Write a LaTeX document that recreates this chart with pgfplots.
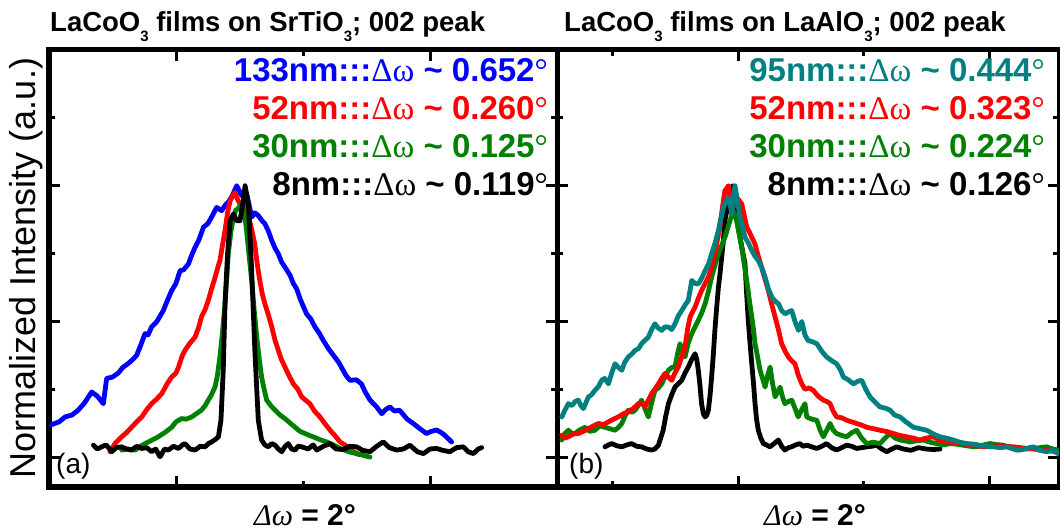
\documentclass[border=0pt]{standalone}
\usepackage{pgfplots}
\pgfplotsset{compat=1.18}
\usepackage{fontspec}
\setmainfont{Liberation Sans}
\newfontfamily\symf{Liberation Serif}
\definecolor{cblue}{RGB}{0,0,255}
\definecolor{cred}{RGB}{255,0,0}
\definecolor{cgreen}{RGB}{0,128,0}
\definecolor{cteal}{RGB}{0,128,128}
\newcommand{\sub}[1]{\raisebox{-10bp}{\fontsize{15bp}{15bp}\selectfont #1}}
\newcommand{\ann}[2]{#1:::{\symf\mdseries Δω}\ \textasciitilde\ #2{\symf\mdseries °}}
\pgfplotsset{panel/.style={
  scale only axis, height=437bp, anchor=south west,
  ymin=-0.11, ymax=1.5,
  xticklabels={}, yticklabels={},
  ytick={0,0.5,1}, minor ytick={0.25,0.75,1.25},
  axis line style={line width=5bp},
  major tick length=11bp, minor tick length=6bp,
  tick style={black, line width=3bp},
  every axis plot/.append style={line width=4.8bp, line join=round, line cap=round, mark=none},
}}
\begin{document}
\begin{tikzpicture}
\useasboundingbox (0,0) rectangle (1060bp,531bp);
% ---------------- panel (a)
\begin{axis}[panel, at={(49bp,44bp)}, width=508bp, xmin=0, xmax=2,
  xtick={0.5,1.5}, minor xtick={1.0}]
\addplot[cblue] coordinates {
(0.01,0.12)(0.04,0.13)(0.063,0.148)(0.09,0.155)(0.115,0.173)(0.14,0.20)(0.168,0.24)(0.19,0.225)
(0.214,0.197)(0.227,0.29)(0.25,0.295)(0.273,0.31)(0.29,0.33)(0.312,0.345)(0.33,0.36)(0.345,0.375)
(0.36,0.41)(0.378,0.455)(0.39,0.45)(0.404,0.48)(0.425,0.50)(0.45,0.54)(0.465,0.575)(0.483,0.614)
(0.5,0.64)(0.516,0.687)(0.53,0.69)(0.549,0.712)(0.56,0.74)(0.575,0.773)(0.59,0.80)(0.608,0.847)
(0.625,0.86)(0.64,0.884)(0.66,0.92)(0.68,0.908)(0.695,0.93)(0.706,0.94)(0.72,0.96)(0.739,1.0)
(0.759,0.963)(0.778,0.97)(0.79,0.92)(0.798,0.884)(0.81,0.90)(0.824,0.89)(0.84,0.87)(0.85,0.86)
(0.865,0.83)(0.877,0.798)(0.89,0.77)(0.903,0.749)(0.915,0.72)(0.929,0.70)(0.949,0.67)(0.962,0.64)
(0.975,0.62)(0.99,0.58)(1.014,0.528)(1.03,0.51)(1.047,0.48)(1.065,0.455)(1.08,0.43)(1.10,0.40)
(1.12,0.375)(1.14,0.35)(1.158,0.32)(1.17,0.30)(1.185,0.283)(1.21,0.285)(1.23,0.27)(1.245,0.24)
(1.264,0.21)(1.29,0.185)(1.31,0.16)(1.325,0.175)(1.342,0.185)(1.36,0.17)(1.38,0.173)(1.41,0.14)
(1.434,0.124)(1.46,0.105)(1.486,0.087)(1.505,0.095)(1.526,0.10)(1.545,0.09)(1.559,0.08)(1.585,0.056)};
\addplot[cred] coordinates {
(0.24,0.02)(0.26,0.05)(0.286,0.075)(0.305,0.09)(0.325,0.11)(0.345,0.13)(0.365,0.148)(0.385,0.175)
(0.404,0.197)(0.425,0.215)(0.444,0.234)(0.465,0.27)(0.483,0.295)(0.5,0.31)(0.51,0.332)(0.523,0.37)
(0.535,0.393)(0.555,0.42)(0.575,0.442)(0.59,0.48)(0.60,0.516)(0.615,0.545)(0.627,0.577)(0.64,0.62)
(0.654,0.663)(0.665,0.70)(0.673,0.724)(0.683,0.78)(0.693,0.835)(0.703,0.90)(0.713,0.945)(0.722,0.96)
(0.732,0.975)(0.742,0.95)(0.752,0.933)(0.762,0.94)(0.772,0.945)(0.78,0.91)(0.79,0.87)(0.80,0.83)
(0.81,0.785)(0.82,0.71)(0.83,0.65)(0.84,0.60)(0.85,0.565)(0.865,0.52)(0.877,0.48)(0.89,0.43)
(0.903,0.393)(0.915,0.36)(0.929,0.332)(0.945,0.30)(0.962,0.27)(0.98,0.25)(0.995,0.222)(1.01,0.21)
(1.027,0.197)(1.045,0.17)(1.067,0.148)(1.085,0.125)(1.106,0.10)(1.125,0.08)(1.146,0.056)(1.165,0.045)
(1.185,0.03)(1.20,0.02)(1.218,0.01)};
\addplot[cgreen] coordinates {
(0.286,0.026)(0.31,0.03)(0.339,0.026)(0.36,0.04)(0.378,0.05)(0.40,0.06)(0.43,0.075)(0.455,0.09)
(0.483,0.11)(0.50,0.13)(0.522,0.142)(0.54,0.14)(0.562,0.148)(0.58,0.16)(0.60,0.173)(0.615,0.19)
(0.627,0.21)(0.64,0.23)(0.654,0.26)(0.663,0.30)(0.673,0.37)(0.683,0.46)(0.693,0.565)(0.70,0.66)
(0.706,0.75)(0.716,0.83)(0.726,0.884)(0.735,0.91)(0.743,0.914)(0.755,0.93)(0.765,0.914)(0.772,0.88)
(0.778,0.835)(0.788,0.74)(0.798,0.65)(0.808,0.54)(0.818,0.442)(0.828,0.36)(0.837,0.295)(0.847,0.25)
(0.857,0.21)(0.873,0.19)(0.89,0.173)(0.91,0.155)(0.929,0.142)(0.95,0.125)(0.969,0.11)(0.988,0.095)
(1.008,0.087)(1.025,0.08)(1.04,0.075)(1.065,0.065)(1.093,0.056)(1.12,0.045)(1.146,0.032)(1.18,0.02)
(1.21,0.013)(1.24,0.006)(1.264,0.0)};
\addplot[black] coordinates {
(0.175,0.044)(0.19,0.03)(0.207,0.038)(0.225,0.045)(0.247,0.02)(0.265,0.035)(0.286,0.038)(0.305,0.03)
(0.325,0.026)(0.345,0.04)(0.365,0.032)(0.385,0.035)(0.404,0.02)(0.42,0.03)(0.437,0.001)(0.455,0.03)
(0.47,0.026)(0.49,0.04)(0.51,0.032)(0.525,0.045)(0.535,0.05)(0.555,0.03)(0.575,0.026)(0.595,0.04)
(0.614,0.038)(0.628,0.05)(0.64,0.056)(0.655,0.065)(0.667,0.075)(0.677,0.136)(0.686,0.32)(0.693,0.565)
(0.703,0.749)(0.713,0.871)(0.726,0.896)(0.739,0.871)(0.752,0.871)(0.765,0.945)(0.772,1.0)(0.785,0.933)
(0.798,0.687)(0.811,0.381)(0.824,0.136)(0.837,0.063)(0.85,0.045)(0.864,0.038)(0.877,0.05)(0.89,0.044)
(0.903,0.03)(0.916,0.02)(0.93,0.04)(0.942,0.05)(0.955,0.03)(0.969,0.026)(0.98,0.04)(0.995,0.038)
(1.02,0.03)(1.04,0.045)(1.054,0.026)(1.08,0.04)(1.106,0.05)(1.13,0.03)(1.159,0.028)(1.185,0.04)
(1.211,0.038)(1.235,0.025)(1.264,0.02)(1.29,0.04)(1.316,0.056)(1.34,0.035)(1.369,0.026)(1.395,0.03)
(1.421,0.044)(1.45,0.02)(1.474,0.013)(1.50,0.03)(1.526,0.032)(1.55,0.025)(1.578,0.02)(1.605,0.035)
(1.631,0.038)(1.65,0.02)(1.671,0.013)(1.69,0.03)(1.703,0.035)};
\end{axis}
% ---------------- panel (b)
\begin{axis}[panel, at={(557bp,44bp)}, width=502bp, xmin=0, xmax=2,
  xtick={0.722,1.722}, minor xtick={0.222,1.222}]
\addplot[black] coordinates {
(0.191,0.038)(0.205,0.045)(0.218,0.05)(0.238,0.042)(0.258,0.038)(0.278,0.045)(0.297,0.05)(0.317,0.04)
(0.337,0.038)(0.357,0.03)(0.377,0.026)(0.39,0.03)(0.404,0.044)(0.413,0.07)(0.423,0.099)(0.433,0.15)
(0.444,0.197)(0.457,0.23)(0.47,0.258)(0.483,0.27)(0.497,0.283)(0.51,0.31)(0.523,0.332)(0.537,0.36)
(0.55,0.381)(0.557,0.36)(0.563,0.32)(0.57,0.26)(0.576,0.197)(0.583,0.16)(0.59,0.148)(0.597,0.155)
(0.603,0.173)(0.61,0.23)(0.616,0.295)(0.623,0.38)(0.629,0.467)(0.636,0.55)(0.643,0.626)(0.65,0.68)
(0.656,0.736)(0.663,0.80)(0.669,0.871)(0.679,0.92)(0.689,0.98)(0.699,1.0)(0.709,0.908)(0.719,0.86)
(0.729,0.81)(0.739,0.76)(0.749,0.712)(0.755,0.61)(0.762,0.504)(0.769,0.42)(0.776,0.344)(0.783,0.27)
(0.789,0.197)(0.795,0.14)(0.802,0.099)(0.812,0.07)(0.822,0.05)(0.835,0.045)(0.848,0.038)(0.865,0.05)
(0.882,0.063)(0.895,0.04)(0.908,0.026)(0.922,0.035)(0.935,0.038)(0.95,0.045)(0.968,0.05)(0.98,0.04)
(0.995,0.044)(1.015,0.038)(1.035,0.032)(1.055,0.04)(1.074,0.05)(1.094,0.035)(1.114,0.026)(1.134,0.035)
(1.154,0.044)(1.174,0.04)(1.194,0.032)(1.214,0.035)(1.234,0.038)(1.254,0.04)(1.274,0.044)(1.294,0.03)
(1.314,0.02)(1.334,0.03)(1.353,0.038)(1.38,0.03)(1.41,0.025)(1.44,0.035)(1.47,0.03)(1.5,0.028)(1.526,0.03)};
\addplot[cgreen] coordinates {
(0.019,0.063)(0.03,0.085)(0.045,0.099)(0.06,0.087)(0.072,0.087)(0.09,0.1)(0.112,0.11)(0.13,0.095)
(0.151,0.099)(0.17,0.115)(0.191,0.11)(0.21,0.105)(0.231,0.099)(0.245,0.11)(0.258,0.124)(0.27,0.15)
(0.284,0.173)(0.298,0.165)(0.311,0.173)(0.324,0.19)(0.337,0.21)(0.35,0.18)(0.364,0.148)(0.377,0.2)
(0.39,0.246)(0.404,0.255)(0.417,0.27)(0.43,0.295)(0.444,0.32)(0.457,0.33)(0.47,0.332)(0.48,0.38)
(0.49,0.418)(0.5,0.39)(0.51,0.369)(0.523,0.42)(0.537,0.455)(0.55,0.48)(0.563,0.504)(0.576,0.53)
(0.59,0.565)(0.603,0.61)(0.616,0.663)(0.63,0.71)(0.643,0.749)(0.656,0.78)(0.669,0.81)(0.679,0.84)
(0.689,0.871)(0.696,0.89)(0.702,0.908)(0.709,0.89)(0.716,0.871)(0.726,0.82)(0.736,0.773)(0.746,0.71)
(0.756,0.651)(0.766,0.58)(0.776,0.516)(0.783,0.47)(0.789,0.418)(0.799,0.37)(0.809,0.32)(0.819,0.29)
(0.829,0.258)(0.839,0.30)(0.849,0.332)(0.859,0.27)(0.869,0.222)(0.879,0.24)(0.889,0.258)(0.899,0.22)
(0.908,0.197)(0.922,0.205)(0.935,0.21)(0.948,0.18)(0.961,0.148)(0.975,0.175)(0.988,0.197)(0.995,0.148)
(1.015,0.14)(1.035,0.136)(1.048,0.1)(1.061,0.075)(1.075,0.1)(1.088,0.124)(1.10,0.1)(1.114,0.087)
(1.134,0.08)(1.154,0.075)(1.174,0.09)(1.194,0.099)(1.214,0.07)(1.234,0.05)(1.26,0.055)(1.287,0.05)
(1.307,0.07)(1.327,0.087)(1.347,0.07)(1.367,0.063)(1.387,0.06)(1.407,0.056)(1.433,0.06)(1.459,0.063)
(1.485,0.055)(1.512,0.05)(1.54,0.045)(1.565,0.05)(1.59,0.048)(1.618,0.044)(1.645,0.04)(1.672,0.038)
(1.7,0.045)(1.725,0.05)(1.75,0.046)(1.778,0.044)(1.805,0.035)(1.831,0.026)(1.865,0.03)(1.897,0.032)
(1.925,0.035)(1.95,0.038)(1.975,0.03)(1.997,0.026)};
\addplot[cred] coordinates {
(0.019,0.081)(0.03,0.07)(0.045,0.075)(0.065,0.085)(0.085,0.087)(0.105,0.095)(0.125,0.105)(0.145,0.115)
(0.165,0.124)(0.185,0.12)(0.205,0.13)(0.225,0.14)(0.244,0.148)(0.265,0.16)(0.284,0.167)(0.305,0.18)
(0.324,0.197)(0.337,0.2)(0.351,0.185)(0.364,0.21)(0.377,0.234)(0.39,0.25)(0.404,0.27)(0.417,0.29)
(0.43,0.308)(0.444,0.295)(0.457,0.283)(0.47,0.31)(0.483,0.332)(0.497,0.37)(0.51,0.406)(0.52,0.47)
(0.53,0.516)(0.54,0.535)(0.55,0.553)(0.563,0.585)(0.576,0.614)(0.59,0.64)(0.603,0.663)(0.616,0.70)
(0.629,0.749)(0.639,0.80)(0.649,0.847)(0.659,0.92)(0.669,0.982)(0.676,0.99)(0.683,1.0)(0.69,0.95)
(0.696,0.908)(0.706,0.93)(0.716,0.957)(0.726,0.945)(0.736,0.933)(0.746,0.89)(0.756,0.847)(0.766,0.83)
(0.776,0.81)(0.789,0.785)(0.802,0.74)(0.815,0.70)(0.829,0.655)(0.842,0.614)(0.855,0.565)(0.869,0.516)
(0.882,0.47)(0.895,0.418)(0.909,0.39)(0.922,0.369)(0.935,0.355)(0.948,0.344)(0.962,0.30)(0.975,0.27)
(0.988,0.25)(1.005,0.255)(1.021,0.246)(1.04,0.225)(1.061,0.21)(1.075,0.205)(1.088,0.197)(1.10,0.17)
(1.114,0.148)(1.134,0.145)(1.154,0.136)(1.174,0.13)(1.194,0.124)(1.214,0.118)(1.234,0.11)(1.26,0.105)
(1.287,0.099)(1.31,0.095)(1.34,0.087)(1.365,0.08)(1.393,0.075)(1.42,0.07)(1.446,0.063)(1.47,0.07)
(1.499,0.075)(1.525,0.062)(1.552,0.056)(1.58,0.055)(1.605,0.05)(1.63,0.048)(1.658,0.044)(1.685,0.04)
(1.712,0.038)(1.74,0.042)(1.765,0.044)(1.79,0.04)(1.818,0.038)(1.845,0.035)(1.871,0.032)(1.9,0.03)
(1.924,0.026)(1.955,0.024)(1.99,0.02)};
\addplot[cteal] coordinates {
(0.019,0.148)(0.03,0.17)(0.045,0.197)(0.06,0.19)(0.072,0.205)(0.085,0.21)(0.095,0.19)(0.105,0.179)
(0.115,0.2)(0.125,0.222)(0.138,0.23)(0.151,0.246)(0.165,0.26)(0.178,0.283)(0.19,0.29)(0.205,0.27)
(0.218,0.31)(0.231,0.344)(0.245,0.33)(0.258,0.32)(0.27,0.35)(0.284,0.369)(0.298,0.38)(0.311,0.393)
(0.325,0.40)(0.337,0.418)(0.35,0.43)(0.364,0.442)(0.377,0.47)(0.39,0.491)(0.404,0.475)(0.417,0.467)
(0.43,0.48)(0.444,0.479)(0.457,0.47)(0.47,0.491)(0.483,0.52)(0.497,0.54)(0.51,0.56)(0.523,0.577)
(0.537,0.651)(0.55,0.64)(0.563,0.638)(0.577,0.66)(0.59,0.687)(0.603,0.71)(0.616,0.749)(0.63,0.79)
(0.643,0.835)(0.653,0.88)(0.663,0.92)(0.673,0.94)(0.683,0.957)(0.69,0.93)(0.696,0.896)(0.703,0.96)
(0.709,1.0)(0.718,0.95)(0.729,0.884)(0.739,0.85)(0.749,0.81)(0.762,0.79)(0.776,0.761)(0.789,0.74)
(0.802,0.724)(0.815,0.70)(0.829,0.663)(0.842,0.62)(0.856,0.589)(0.869,0.575)(0.882,0.565)(0.895,0.54)
(0.909,0.528)(0.922,0.535)(0.935,0.54)(0.948,0.50)(0.962,0.467)(0.975,0.50)(0.988,0.45)(1.0,0.43)
(1.018,0.425)(1.035,0.418)(1.055,0.39)(1.074,0.369)(1.095,0.355)(1.114,0.344)(1.13,0.32)(1.141,0.295)
(1.16,0.285)(1.181,0.27)(1.2,0.28)(1.214,0.283)(1.23,0.25)(1.247,0.222)(1.27,0.20)(1.287,0.185)
(1.31,0.18)(1.327,0.173)(1.345,0.155)(1.367,0.148)(1.39,0.13)(1.42,0.11)(1.445,0.105)(1.473,0.099)
(1.50,0.085)(1.526,0.075)(1.55,0.07)(1.579,0.063)(1.605,0.055)(1.632,0.05)(1.66,0.048)(1.685,0.044)
(1.71,0.04)(1.738,0.038)(1.765,0.035)(1.791,0.038)(1.82,0.03)(1.844,0.026)(1.87,0.032)(1.897,0.038)
(1.925,0.025)(1.95,0.02)(1.975,0.025)(1.997,0.013)};
\end{axis}
% ---------------- texts
\node[anchor=base west, font=\fontsize{27.5bp}{27.5bp}\selectfont\bfseries, inner sep=0pt] at (50bp,499bp)
  {LaCoO\sub{3} films on SrTiO\sub{3}; 002 peak};
\node[anchor=base west, font=\fontsize{27.5bp}{27.5bp}\selectfont\bfseries, inner sep=0pt] at (564bp,499bp)
  {LaCoO\sub{3} films on LaAlO\sub{3}; 002 peak};
\begin{scope}[every node/.style={anchor=base east, inner sep=0pt, font=\fontsize{33bp}{33bp}\selectfont\bfseries}]
\node[text=cblue] at (548bp,449bp) {\ann{133nm}{0.652}};
\node[text=cred] at (548bp,411bp) {\ann{52nm}{0.260}};
\node[text=cgreen] at (548bp,373bp) {\ann{30nm}{0.125}};
\node[text=black] at (548bp,335bp) {\ann{8nm}{0.119}};
\node[text=cteal] at (1045bp,449bp) {\ann{95nm}{0.444}};
\node[text=cred] at (1045bp,411bp) {\ann{52nm}{0.323}};
\node[text=cgreen] at (1045bp,373bp) {\ann{30nm}{0.224}};
\node[text=black] at (1045bp,335bp) {\ann{8nm}{0.126}};
\end{scope}
\node[rotate=90, anchor=base, inner sep=0pt, font=\fontsize{36bp}{36bp}\selectfont] at (35bp,263bp)
  {Normalized Intensity (a.u.)};
\node[anchor=base west, inner sep=0pt, font=\fontsize{28bp}{28bp}\selectfont] at (56bp,57bp) {(a)};
\node[anchor=base west, inner sep=0pt, font=\fontsize{28bp}{28bp}\selectfont] at (569bp,57bp) {(b)};
\node[anchor=base, inner sep=0pt, font=\fontsize{30bp}{30bp}\selectfont\bfseries] at (305bp,6bp)
  {{\symf\itshape\mdseries Δω} = 2°};
\node[anchor=base, inner sep=0pt, font=\fontsize{30bp}{30bp}\selectfont\bfseries] at (815bp,6bp)
  {{\symf\itshape\mdseries Δω} = 2°};
\end{tikzpicture}
\end{document}
